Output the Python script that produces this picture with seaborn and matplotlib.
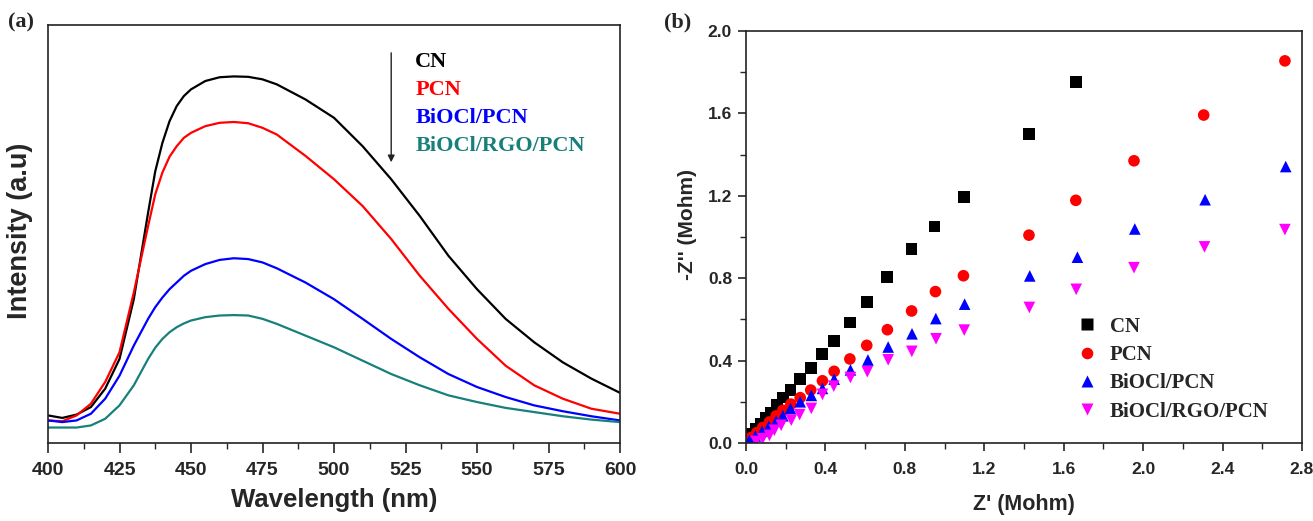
import matplotlib
matplotlib.use("Agg")
import matplotlib.pyplot as plt
from matplotlib.ticker import MultipleLocator
import seaborn as sns
import pandas as pd

# ---------------- PL spectra (panel a) ----------------
wavelength = [400, 405, 410, 415, 420, 425, 430, 435, 437.5, 440, 442.5, 445, 447.5, 450,
              455, 460, 465, 470, 475, 480, 490, 500, 510, 520, 530, 540, 550, 560, 570,
              580, 590, 600]
pl_cn = [0.066, 0.060, 0.068, 0.086, 0.130, 0.201, 0.344, 0.551, 0.650, 0.718, 0.770,
         0.806, 0.830, 0.846, 0.866, 0.875, 0.877, 0.876, 0.870, 0.858, 0.822, 0.778,
         0.710, 0.631, 0.543, 0.448, 0.368, 0.297, 0.241, 0.193, 0.154, 0.120]
pl_pcn = [0.054, 0.052, 0.066, 0.094, 0.146, 0.217, 0.360, 0.519, 0.595, 0.647, 0.685,
          0.710, 0.730, 0.742, 0.758, 0.766, 0.768, 0.765, 0.754, 0.738, 0.687, 0.631,
          0.567, 0.488, 0.400, 0.321, 0.249, 0.185, 0.138, 0.106, 0.082, 0.070]
pl_biocl = [0.054, 0.050, 0.054, 0.070, 0.106, 0.161, 0.233, 0.297, 0.325, 0.348, 0.368,
            0.384, 0.400, 0.412, 0.428, 0.438, 0.442, 0.440, 0.432, 0.418, 0.384, 0.344,
            0.297, 0.249, 0.205, 0.165, 0.134, 0.110, 0.090, 0.076, 0.064, 0.054]
pl_rgo = [0.037, 0.037, 0.037, 0.042, 0.058, 0.090, 0.138, 0.201, 0.228, 0.249, 0.265,
          0.277, 0.286, 0.293, 0.301, 0.305, 0.306, 0.305, 0.297, 0.285, 0.257, 0.229,
          0.197, 0.165, 0.138, 0.114, 0.098, 0.084, 0.074, 0.064, 0.056, 0.050]

# ---------------- Nyquist plots (panel b) ----------------
z_re_cn = [0.012, 0.030, 0.051, 0.076, 0.101, 0.127, 0.157, 0.186, 0.224, 0.273, 0.326,
           0.383, 0.442, 0.524, 0.608, 0.709, 0.834, 0.949, 1.097, 1.425, 1.661]
z_im_cn = [0.024, 0.046, 0.070, 0.094, 0.122, 0.148, 0.184, 0.221, 0.257, 0.311, 0.363,
           0.431, 0.496, 0.585, 0.683, 0.807, 0.941, 1.051, 1.194, 1.499, 1.753]

z_re_pcn = [0.025, 0.054, 0.084, 0.118, 0.152, 0.186, 0.226, 0.273, 0.326, 0.385, 0.444,
            0.523, 0.608, 0.712, 0.834, 0.954, 1.095, 1.425, 1.661, 1.954, 2.305, 2.714]
z_im_pcn = [0.026, 0.050, 0.075, 0.102, 0.132, 0.159, 0.189, 0.220, 0.257, 0.302, 0.348,
            0.408, 0.474, 0.550, 0.641, 0.735, 0.812, 1.009, 1.178, 1.370, 1.592, 1.855]

z_re_biocl = [0.017, 0.047, 0.081, 0.115, 0.152, 0.186, 0.224, 0.273, 0.329, 0.385, 0.444,
              0.526, 0.614, 0.716, 0.836, 0.956, 1.101, 1.429, 1.669, 1.958, 2.312, 2.718]
z_im_biocl = [0.013, 0.034, 0.057, 0.081, 0.106, 0.132, 0.167, 0.200, 0.231, 0.265, 0.310,
              0.355, 0.403, 0.466, 0.530, 0.604, 0.674, 0.811, 0.902, 1.039, 1.181, 1.342]

z_re_rgo = [0.051, 0.084, 0.118, 0.143, 0.177, 0.228, 0.270, 0.329, 0.385, 0.442, 0.526,
            0.611, 0.716, 0.835, 0.957, 1.099, 1.427, 1.663, 1.954, 2.309, 2.714]
z_im_rgo = [0.008, 0.021, 0.037, 0.062, 0.086, 0.111, 0.138, 0.168, 0.236, 0.276, 0.318,
            0.346, 0.404, 0.445, 0.506, 0.548, 0.658, 0.746, 0.851, 0.952, 1.036]

samples = ["CN", "PCN", "BiOCl/PCN", "BiOCl/RGO/PCN"]
pl_colors = ["#000000", "#ff0000", "#0000ff", "#17807a"]
eis_colors = ["#000000", "#ff0000", "#0000ff", "#ff00ff"]
eis_markers = ["s", "o", "^", "v"]

pl_df = pd.concat([
    pd.DataFrame({"Wavelength": wavelength, "Intensity": y, "Sample": s})
    for s, y in zip(samples, [pl_cn, pl_pcn, pl_biocl, pl_rgo])
], ignore_index=True)

eis_df = pd.concat([
    pd.DataFrame({"Zre": x, "Zim": y, "Sample": s})
    for s, x, y in zip(samples,
                       [z_re_cn, z_re_pcn, z_re_biocl, z_re_rgo],
                       [z_im_cn, z_im_pcn, z_im_biocl, z_im_rgo])
], ignore_index=True)

sns.set_theme(style="ticks")
plt.rcParams["font.family"] = ["Liberation Sans", "DejaVu Sans"]
plt.rcParams["font.weight"] = "bold"
plt.rcParams["axes.linewidth"] = 1.2

W, H = 1313, 521
fig = plt.figure(figsize=(W / 100, H / 100), dpi=100)
ax_a = fig.add_axes([48 / W, 78 / H, 572 / W, 418 / H])
ax_b = fig.add_axes([746 / W, 78 / H, 556 / W, 412 / H])

serif_bold = {"family": ["Liberation Serif", "DejaVu Serif"], "weight": "bold"}

# ---- panel (a): photoluminescence ----
sns.lineplot(data=pl_df, x="Wavelength", y="Intensity", hue="Sample",
             palette=dict(zip(samples, pl_colors)), linewidth=1.6,
             ax=ax_a, legend=False, sort=False)
ax_a.set_xlim(400, 600)
ax_a.set_ylim(0, 1)
ax_a.set_yticks([])
ax_a.xaxis.set_major_locator(MultipleLocator(25))
ax_a.xaxis.set_minor_locator(MultipleLocator(12.5))
ax_a.tick_params(axis="x", which="major", direction="out", length=7, width=1.2,
                 labelsize=14, pad=7, top=False)
ax_a.tick_params(axis="x", which="minor", direction="out", length=4, width=1.0, top=False)
ax_a.set_xlabel("Wavelength (nm)", fontsize=18.5, fontweight="bold", labelpad=6)
ax_a.set_ylabel("Intensity (a.u)", fontsize=19.5, fontweight="bold")
ax_a.yaxis.set_label_coords(-0.027, (443 - 231) / 418)

for i, (s, c) in enumerate(zip(samples, pl_colors)):
    ax_a.text(0.642, 0.911 - i * 0.067, s, color=c, transform=ax_a.transAxes,
              fontsize=16, va="center", ha="left", fontdict=serif_bold)
ax_a.annotate("", xy=(0.6, 0.665), xytext=(0.6, 0.94), xycoords="axes fraction",
              arrowprops=dict(arrowstyle="-|>", color="#222222", lw=1.0,
                              mutation_scale=10))

# ---- panel (b): EIS Nyquist ----
sns.scatterplot(data=eis_df, x="Zre", y="Zim", hue="Sample", style="Sample",
                palette=dict(zip(samples, eis_colors)),
                markers=dict(zip(samples, eis_markers)),
                s=70, edgecolor="none", ax=ax_b)
ax_b.set_xlim(0, 2.8)
ax_b.set_ylim(0, 2.0)
ax_b.xaxis.set_major_locator(MultipleLocator(0.4))
ax_b.xaxis.set_minor_locator(MultipleLocator(0.2))
ax_b.yaxis.set_major_locator(MultipleLocator(0.4))
ax_b.yaxis.set_minor_locator(MultipleLocator(0.2))
ax_b.xaxis.set_major_formatter(plt.FormatStrFormatter("%.1f"))
ax_b.yaxis.set_major_formatter(plt.FormatStrFormatter("%.1f"))
ax_b.tick_params(which="major", direction="out", length=6, width=1.2,
                 labelsize=12.5, top=False, right=False)
ax_b.tick_params(axis="x", which="major", pad=8)
ax_b.tick_params(axis="y", which="major", pad=4)
ax_b.tick_params(which="minor", direction="out", length=4, width=1.0,
                 top=False, right=False)
ax_b.set_xlabel("Z' (Mohm)", fontsize=15.5, fontweight="bold", labelpad=12)
ax_b.set_ylabel("-Z'' (Mohm)", fontsize=15, fontweight="bold")
ax_b.yaxis.set_label_coords(-0.088, (443 - 224) / 412)

handles, labels = ax_b.get_legend_handles_labels()
leg = ax_b.legend(handles, labels, loc="upper left", bbox_to_anchor=(0.561, 0.352),
                  frameon=False, prop={"family": "Liberation Serif", "weight": "bold",
                                       "size": 15},
                  labelspacing=0.4, handlelength=1.0, handletextpad=0.6,
                  markerscale=1.0)

for ax in (ax_a, ax_b):
    for sp in ax.spines.values():
        sp.set_visible(True)
        sp.set_color("#222222")
        sp.set_linewidth(1.2)

fig.text(8 / W, 1 - 22 / H, "(a)", fontsize=16, va="center", ha="left", fontdict=serif_bold)
fig.text(664 / W, 1 - 22 / H, "(b)", fontsize=16, va="center", ha="left", fontdict=serif_bold)

fig.savefig("out.png", dpi=100, facecolor="white")
